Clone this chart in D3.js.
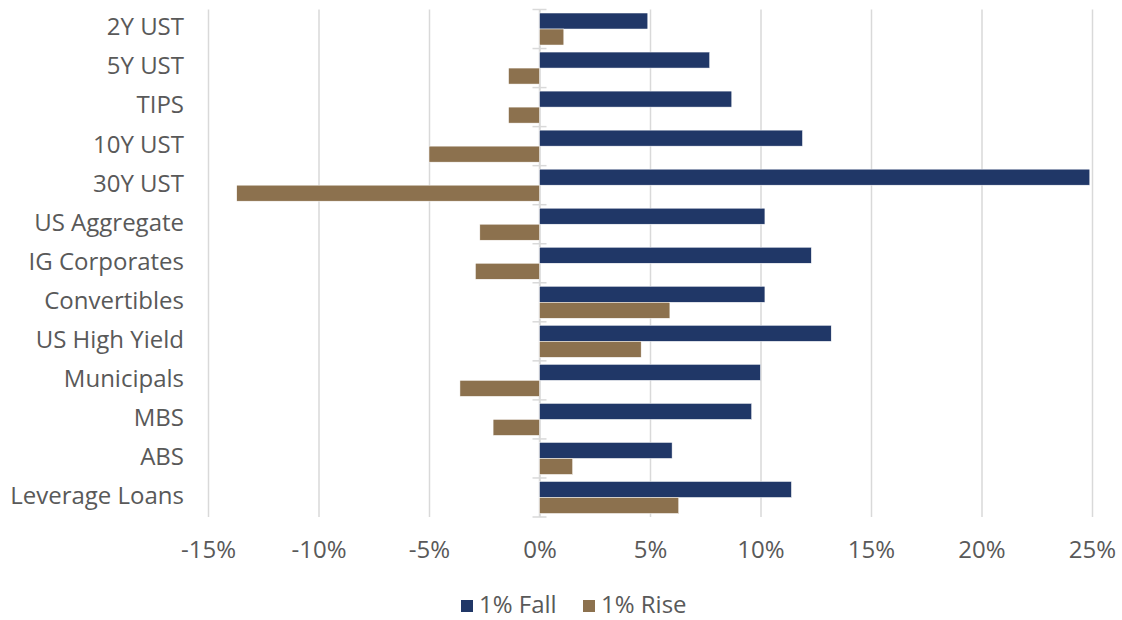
<!DOCTYPE html>
<html>
<head>
<meta charset="utf-8">
<script src="https://cdn.jsdelivr.net/npm/d3@7"></script>
<style>
  body { margin: 0; background: #fff; }
  text { font-family: "Open Sans", sans-serif; fill: #595959; }
</style>
</head>
<body>
<svg width="1122" height="620"></svg>
<script>
// categories and values (% return)
let categorias = ['2Y UST', '5Y UST', 'TIPS', '10Y UST', '30Y UST', 'US Aggregate', 'IG Corporates',
                  'Convertibles', 'US High Yield', 'Municipals', 'MBS', 'ABS', 'Leverage Loans']
let caida = [4.9, 7.7, 8.7, 11.9, 24.9, 10.2, 12.3, 10.2, 13.2, 10.0, 9.6, 6.0, 11.4]
let subida = [1.1, -1.4, -1.4, -5.0, -13.7, -2.7, -2.9, 5.9, 4.6, -3.6, -2.1, 1.5, 6.3]
let series = ['1% Fall', '1% Rise']
let ticks = [-15, -10, -5, 0, 5, 10, 15, 20, 25]

let colores = {'1% Fall': '#203767', '1% Rise': '#8c714e'}

let svg = d3.select('svg')

let x = d3.scaleLinear().domain([-15, 25]).range([208, 1092])
let y = d3.scaleBand().domain(categorias).range([9.5, 517]).paddingInner(0.18).paddingOuter(0.09)
let ySub = d3.scaleBand().domain(series).range([0, y.bandwidth()])

/* gridlines + x axis */
let xAxis = svg.append('g')
  .attr('transform', 'translate(0,517)')
  .call(d3.axisBottom(x).tickValues(ticks).tickSize(-507.5).tickFormat(d => d + '%'))
xAxis.select('.domain').remove()
xAxis.selectAll('line').attr('stroke', '#d9d9d9').attr('stroke-width', 1.5)
xAxis.selectAll('text').attr('y', 24).style('font-size', '24px').attr('fill', '#595959')

/* zero axis with category ticks */
let gz = svg.append('g')
gz.append('line').attr('x1', x(0)).attr('x2', x(0)).attr('y1', 9.5).attr('y2', 517)
  .attr('stroke', '#d9d9d9').attr('stroke-width', 1.5)
let bordes = categorias.map(c => y(c) - y.step() * y.paddingInner() / 2)
bordes.push(517)
gz.selectAll('line.tk').data(bordes).enter().append('line')
  .attr('class', 'tk')
  .attr('x1', x(0) - 7).attr('x2', x(0) + 7)
  .attr('y1', d => d).attr('y2', d => d)
  .attr('stroke', '#d9d9d9').attr('stroke-width', 1.5)

/* bars */
let filas = categorias.map((c, i) => ({cat: c, valores: [
  {serie: '1% Fall', v: caida[i]}, {serie: '1% Rise', v: subida[i]}]}))

let grupos = svg.append('g').selectAll('g.fila')
  .data(filas)
  .enter().append('g')
  .attr('class', 'fila')
  .attr('transform', d => `translate(0,${y(d.cat)})`)

grupos.selectAll('rect')
  .data(d => d.valores)
  .enter().append('rect')
  .attr('x', d => x(Math.min(0, d.v)))
  .attr('width', d => Math.abs(x(d.v) - x(0)))
  .attr('y', d => ySub(d.serie))
  .attr('height', ySub.bandwidth())
  .attr('fill', d => colores[d.serie])
  .attr('stroke', '#fff').attr('stroke-width', 0.5)

/* category labels */
svg.append('g').selectAll('text')
  .data(categorias)
  .enter().append('text')
  .attr('x', 184)
  .attr('y', d => y(d) + y.bandwidth() / 2 - 2)
  .attr('dy', '0.35em')
  .attr('text-anchor', 'end')
  .style('font-size', '24px')
  .text(d => d)

/* legend */
let leyenda = svg.append('g').attr('transform', 'translate(461,605)')
let posiciones = [0, 122]
let items = leyenda.selectAll('g').data(series).enter().append('g')
  .attr('transform', (d, i) => `translate(${posiciones[i]},0)`)
items.append('rect').attr('x', 0).attr('y', -5).attr('width', 12).attr('height', 12)
  .attr('fill', d => colores[d])
items.append('text').attr('x', 18).attr('dy', '0.35em').style('font-size', '24px').text(d => d)
</script>
</body>
</html>
